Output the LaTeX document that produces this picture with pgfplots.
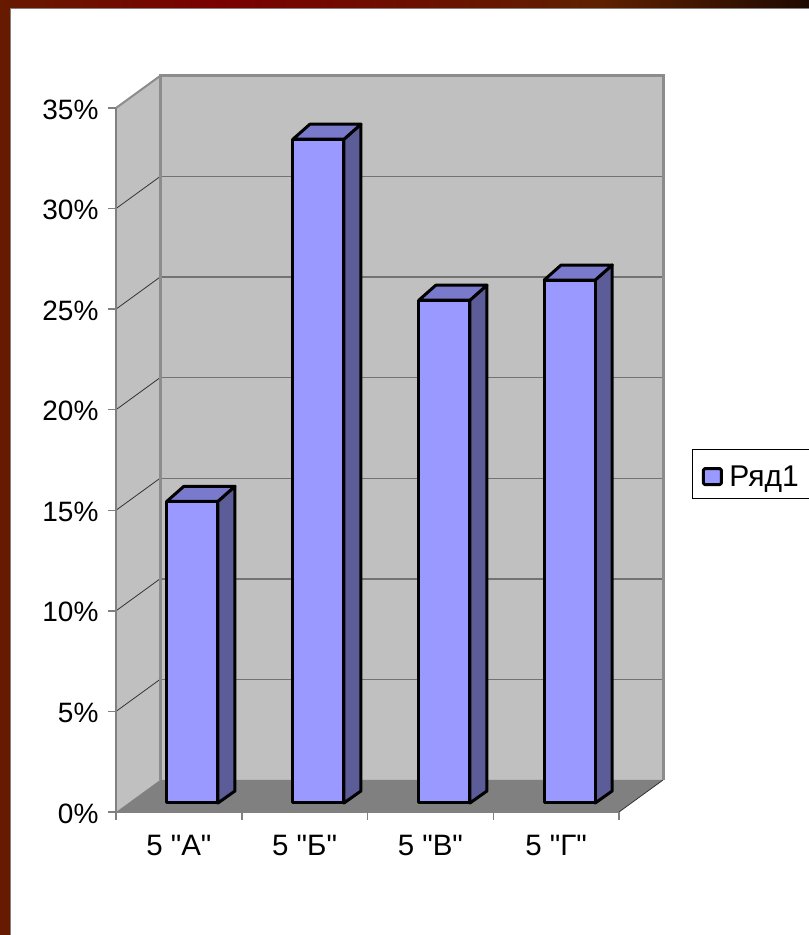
\documentclass[border=0pt]{standalone}
\usepackage{fontspec}
\setmainfont{Liberation Sans}
\newfontfamily\labfont{Liberation Sans}
\usepackage{pgfplots}
\pgfplotsset{compat=1.18}
\definecolor{wall}{HTML}{C0C0C0}
\definecolor{floorc}{HTML}{808080}
\definecolor{edgec}{HTML}{8C8C8C}
\definecolor{barfront}{HTML}{9999FF}
\definecolor{bartop}{HTML}{7A7ACC}
\definecolor{barside}{HTML}{5C5C99}
\definecolor{bordera}{HTML}{661A00}
\definecolor{borderb}{HTML}{7A0000}
\definecolor{borderc}{HTML}{5F2000}
\definecolor{borderd}{HTML}{1F0A00}
\newcommand{\lab}{\labfont\fontsize{28}{30}\selectfont}
\newcommand{\labx}{\labfont\fontsize{29.5}{30}\selectfont}
\newcommand{\labl}{\labfont\fontsize{30}{30}\selectfont}
\begin{document}
\begin{tikzpicture}[x=1pt,y=1pt]
  \useasboundingbox (0,0) rectangle (809,935);
  % slide background
  \fill[white] (0,0) rectangle (809,935);
  \fill[bordera] (0,0) rectangle (10,935);
  \shade[left color=bordera,right color=borderb] (0,926) rectangle (220,935);
  \shade[left color=borderb,right color=borderc] (220,926) rectangle (600,935);
  \shade[left color=borderc,right color=borderd] (600,926) rectangle (809,935);
  \draw[gray,line width=1pt] (10,0) -- (10,926) -- (809,926);
  \begin{axis}[
    at={(116pt,123pt)},
    scale only axis,
    width=503pt, height=704pt,
    xmin=0, xmax=4, ymin=0, ymax=35,
    clip=false,
    axis on top,
    axis x line=bottom,
    axis y line=left,
    axis line style={-,draw=floorc,line width=1.5pt},
    xtick={0.5,1.5,2.5,3.5},
    xticklabels={5 "А",5 "Б",5 "В",5 "Г"},
    minor xtick={0,1,2,3,4},
    major x tick style={draw=none},
    minor x tick style={draw=floorc,line width=1.5pt},
    minor tick length=8pt,
    ytick={0,5,10,15,20,25,30,35},
    yticklabels={0\%,5\%,10\%,15\%,20\%,25\%,30\%,35\%},
    y tick style={draw=floorc,line width=1.5pt},
    major tick length=8pt,
    tick align=outside,
    xticklabel style={font=\labx,yshift=-12pt},
    yticklabel style={font=\lab,xshift=-6pt,yshift=-1.5pt},
    legend style={
      at={(1.1451,0.48)}, anchor=west,
      draw=black, line width=0.8pt,
      font=\labl, inner xsep=6pt,
    },
    legend image code/.code={
      \path[use as bounding box,draw=none,fill=none] (0pt,0pt) rectangle (29pt,1pt);
      \draw[overlay,fill=barfront,draw=black,line width=3pt,rounded corners=1.5pt]
        (5pt,-19.5pt) rectangle (23pt,-3.5pt);
    },
  ]
    % walls and floor
    \addplot[forget plot,fill=wall,draw=none] coordinates {(0,0)(0.35,1.591)(0.35,36.591)(0,35)} -- cycle;
    \addplot[forget plot,fill=wall,draw=none] coordinates {(0.35,1.591)(4.35,1.591)(4.35,36.591)(0.35,36.591)} -- cycle;
    \addplot[forget plot,fill=floorc,draw=none] coordinates {(0,0)(4,0)(4.35,1.591)(0.35,1.591)} -- cycle;
    % back wall gridlines
    \addplot[forget plot,draw=black!55,line width=1.3pt] coordinates {(0.35,6.591)(4.35,6.591)};
    \addplot[forget plot,draw=black!55,line width=1.3pt] coordinates {(0.35,11.591)(4.35,11.591)};
    \addplot[forget plot,draw=black!55,line width=1.3pt] coordinates {(0.35,16.591)(4.35,16.591)};
    \addplot[forget plot,draw=black!55,line width=1.3pt] coordinates {(0.35,21.591)(4.35,21.591)};
    \addplot[forget plot,draw=black!55,line width=1.3pt] coordinates {(0.35,26.591)(4.35,26.591)};
    \addplot[forget plot,draw=black!55,line width=1.3pt] coordinates {(0.35,31.591)(4.35,31.591)};
    % side wall gridlines
    \addplot[forget plot,draw=black!80,line width=0.8pt] coordinates {(0,5)(0.35,6.591)};
    \addplot[forget plot,draw=black!80,line width=0.8pt] coordinates {(0,10)(0.35,11.591)};
    \addplot[forget plot,draw=black!80,line width=0.8pt] coordinates {(0,15)(0.35,16.591)};
    \addplot[forget plot,draw=black!80,line width=0.8pt] coordinates {(0,20)(0.35,21.591)};
    \addplot[forget plot,draw=black!80,line width=0.8pt] coordinates {(0,25)(0.35,26.591)};
    \addplot[forget plot,draw=black!80,line width=0.8pt] coordinates {(0,30)(0.35,31.591)};
    \addplot[forget plot,draw=black!80,line width=0.8pt] coordinates {(4,0)(4.35,1.591)};
    % wall edges
    \addplot[forget plot,draw=edgec,line width=3pt] coordinates {(0.35,1.591)(0.35,36.591)(4.35,36.591)(4.35,1.591)};
    \addplot[forget plot,draw=edgec,line width=2pt] coordinates {(0,35)(0.35,36.591)};
    % bar sides
    \addplot[forget plot,fill=barside,draw=black,line width=3pt,line join=round] coordinates {(0.811,0.4475)(0.946,1.045)(0.946,16.194)(0.811,15.448)} -- cycle;
    \addplot[forget plot,fill=barside,draw=black,line width=3pt,line join=round] coordinates {(1.813,0.4475)(1.948,1.045)(1.948,34.194)(1.813,33.448)} -- cycle;
    \addplot[forget plot,fill=barside,draw=black,line width=3pt,line join=round] coordinates {(2.815,0.4475)(2.950,1.045)(2.950,26.194)(2.815,25.448)} -- cycle;
    \addplot[forget plot,fill=barside,draw=black,line width=3pt,line join=round] coordinates {(3.811,0.4475)(3.946,1.045)(3.946,27.194)(3.811,26.448)} -- cycle;
    % bar tops
    \addplot[forget plot,fill=bartop,draw=black,line width=3pt,line join=round] coordinates {(0.405,15.448)(0.540,16.194)(0.946,16.194)(0.811,15.448)} -- cycle;
    \addplot[forget plot,fill=bartop,draw=black,line width=3pt,line join=round] coordinates {(1.407,33.448)(1.542,34.194)(1.948,34.194)(1.813,33.448)} -- cycle;
    \addplot[forget plot,fill=bartop,draw=black,line width=3pt,line join=round] coordinates {(2.409,25.448)(2.544,26.194)(2.950,26.194)(2.815,25.448)} -- cycle;
    \addplot[forget plot,fill=bartop,draw=black,line width=3pt,line join=round] coordinates {(3.405,26.448)(3.540,27.194)(3.946,27.194)(3.811,26.448)} -- cycle;
    % bar fronts, the actual values
    \addplot[ybar,bar width=51pt,bar shift=0pt,yshift=9pt,fill=barfront,draw=black,line width=3pt,line join=round]
      coordinates {(0.608,15)(1.610,33)(2.612,25)(3.608,26)};
    \addlegendentry[text width=115pt,text height=33pt,text depth=8pt]{Ряд1}
  \end{axis}
\end{tikzpicture}
\end{document}
